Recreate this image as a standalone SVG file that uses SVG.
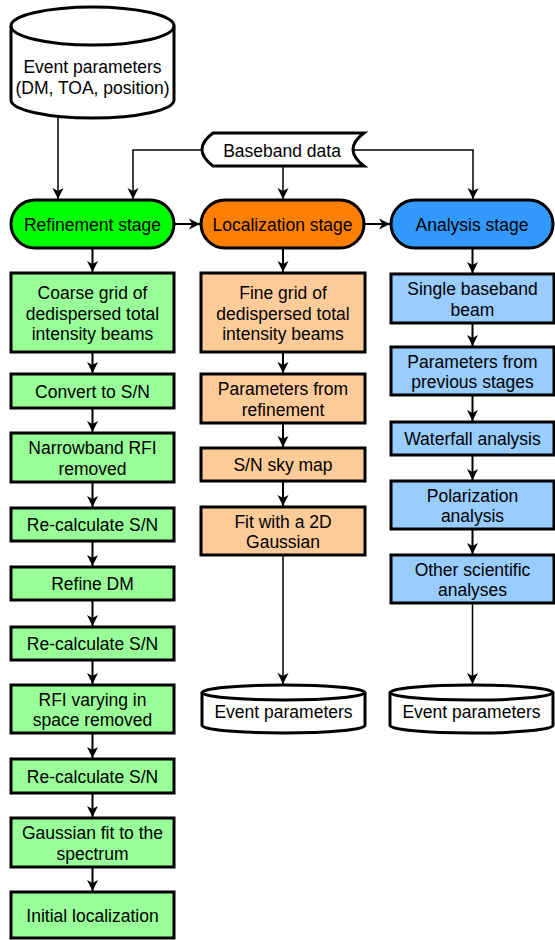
<svg xmlns="http://www.w3.org/2000/svg" width="555" height="940" viewBox="0 0 555 940">
<defs>
<marker id="ah" markerUnits="userSpaceOnUse" markerWidth="12" markerHeight="12" refX="11" refY="6" orient="auto">
<path d="M0,0.5 L11,6 L0,11.5 L3,6 Z" fill="#000"/>
</marker>
<style>
text{font-family:"Liberation Sans",Arial,Helvetica,sans-serif;font-size:17.5px;fill:#000;text-anchor:middle}
.sh{stroke:#000;stroke-width:3}
.g{fill:#99ff99}.gp{fill:#00ff00}
.o{fill:#ffcc99}.op{fill:#ff8000}
.b{fill:#99ccff}.bp{fill:#3399ff}
.w{fill:#fff}
.c{fill:none;stroke:#000;stroke-width:2;marker-end:url(#ah)}
.t{fill:none;stroke:#000;stroke-width:1.5;marker-end:url(#ah)}
</style>
</defs>

<g id="connectors">
<path class="t" d="M58,118 V199"/>
<path class="t" d="M202,150 H133 V199"/>
<path class="t" d="M283,166 V199"/>
<path class="t" d="M353,150 H473 V199"/>
<path class="c" d="M174,224 H200"/>
<path class="c" d="M364,224 H390"/>
<path class="c" d="M92.5,248 V272"/>
<path class="c" d="M92.5,352 V373"/>
<path class="c" d="M92.5,408 V432"/>
<path class="c" d="M92.5,482 V507"/>
<path class="c" d="M92.5,541 V566"/>
<path class="c" d="M92.5,600 V626"/>
<path class="c" d="M92.5,660 V684"/>
<path class="c" d="M92.5,733 V758"/>
<path class="c" d="M92.5,793 V817"/>
<path class="c" d="M92.5,867 V891"/>
<path class="c" d="M283,248 V272"/>
<path class="c" d="M283,352 V373"/>
<path class="c" d="M283,423 V447"/>
<path class="c" d="M283,481 V506"/>
<path class="t" d="M283,555 V684"/>
<path class="c" d="M472.5,248 V273"/>
<path class="c" d="M472.5,323 V346"/>
<path class="c" d="M472.5,395 V421"/>
<path class="c" d="M472.5,455 V480"/>
<path class="c" d="M472.5,529 V554"/>
<path class="t" d="M472.5,603 V684"/>
</g>

<g id="event-params-top">
<path class="sh w" d="M11,26 V100 A81.5,18 0 0 0 174,100 V26 A81.5,19 0 0 0 11,26 Z"/>
<path class="sh" fill="none" d="M11,26 A81.5,19 0 0 0 174,26"/>
<text x="92.5" y="73">Event parameters</text>
<text x="92.5" y="94">(DM, TOA, position)</text>
</g>

<g id="baseband">
<path class="sh w" d="M213,133 H364 Q342,149.5 364,166 H213 Q191,149.5 213,133 Z"/>
<text x="282" y="157">Baseband data</text>
</g>

<g id="refinement-stage">
<rect class="sh gp" x="11" y="200" width="163" height="48" rx="24"/>
<text x="92.5" y="230.5">Refinement stage</text>
</g>
<g id="localization-stage">
<rect class="sh op" x="201" y="200" width="163" height="48" rx="24"/>
<text x="282.5" y="230.5">Localization stage</text>
</g>
<g id="analysis-stage">
<rect class="sh bp" x="391" y="200" width="162" height="48" rx="24"/>
<text x="472" y="230.5">Analysis stage</text>
</g>

<g id="g1"><rect class="sh g" x="11" y="273" width="163" height="79"/>
<text x="92.5" y="299">Coarse grid of</text><text x="92.5" y="319.5">dedispersed total</text><text x="92.5" y="340">intensity beams</text></g>
<g id="g2"><rect class="sh g" x="11" y="374" width="163" height="34"/>
<text x="92.5" y="397.5">Convert to S/N</text></g>
<g id="g3"><rect class="sh g" x="11" y="433" width="163" height="49"/>
<text x="92.5" y="454">Narrowband RFI</text><text x="92.5" y="474.5">removed</text></g>
<g id="g4"><rect class="sh g" x="11" y="508" width="163" height="33"/>
<text x="92.5" y="530.5">Re-calculate S/N</text></g>
<g id="g5"><rect class="sh g" x="11" y="567" width="163" height="33"/>
<text x="92.5" y="589.5">Refine DM</text></g>
<g id="g6"><rect class="sh g" x="11" y="627" width="163" height="33"/>
<text x="92.5" y="649.5">Re-calculate S/N</text></g>
<g id="g7"><rect class="sh g" x="11" y="685" width="163" height="48"/>
<text x="92.5" y="705.5">RFI varying in</text><text x="92.5" y="726">space removed</text></g>
<g id="g8"><rect class="sh g" x="11" y="759" width="163" height="34"/>
<text x="92.5" y="782.5">Re-calculate S/N</text></g>
<g id="g9"><rect class="sh g" x="11" y="818" width="163" height="49"/>
<text x="92.5" y="839">Gaussian fit to the</text><text x="92.5" y="859.5">spectrum</text></g>
<g id="g10"><rect class="sh g" x="11" y="892" width="163" height="46"/>
<text x="92.5" y="921.5">Initial localization</text></g>

<g id="o1"><rect class="sh o" x="201" y="273" width="164" height="79"/>
<text x="283" y="299">Fine grid of</text><text x="283" y="319.5">dedispersed total</text><text x="283" y="340">intensity beams</text></g>
<g id="o2"><rect class="sh o" x="201" y="374" width="164" height="49"/>
<text x="283" y="395">Parameters from</text><text x="283" y="415.5">refinement</text></g>
<g id="o3"><rect class="sh o" x="201" y="448" width="164" height="33"/>
<text x="283" y="470.5">S/N sky map</text></g>
<g id="o4"><rect class="sh o" x="201" y="507" width="164" height="48"/>
<text x="283" y="527.5">Fit with a 2D</text><text x="283" y="548">Gaussian</text></g>

<g id="b1"><rect class="sh b" x="391" y="274" width="163" height="49"/>
<text x="472.5" y="295">Single baseband</text><text x="472.5" y="315.5">beam</text></g>
<g id="b2"><rect class="sh b" x="391" y="347" width="163" height="48"/>
<text x="472.5" y="367.5">Parameters from</text><text x="472.5" y="388">previous stages</text></g>
<g id="b3"><rect class="sh b" x="391" y="422" width="163" height="33"/>
<text x="472.5" y="444.5">Waterfall analysis</text></g>
<g id="b4"><rect class="sh b" x="391" y="481" width="163" height="48"/>
<text x="472.5" y="501.5">Polarization</text><text x="472.5" y="522">analysis</text></g>
<g id="b5"><rect class="sh b" x="391" y="555" width="163" height="48"/>
<text x="472.5" y="575.5">Other scientific</text><text x="472.5" y="596">analyses</text></g>

<g id="event-params-loc">
<path class="sh w" d="M202,692.5 V725.5 A81.5,7.5 0 0 0 365,725.5 V692.5 A81.5,7.5 0 0 0 202,692.5 Z"/>
<path class="sh" fill="none" d="M202,692.5 A81.5,7.5 0 0 0 365,692.5"/>
<text x="283.5" y="718">Event parameters</text>
</g>
<g id="event-params-ana">
<path class="sh w" d="M390,692.5 V725.5 A81.5,7.5 0 0 0 553,725.5 V692.5 A81.5,7.5 0 0 0 390,692.5 Z"/>
<path class="sh" fill="none" d="M390,692.5 A81.5,7.5 0 0 0 553,692.5"/>
<text x="471.5" y="718">Event parameters</text>
</g>
</svg>
